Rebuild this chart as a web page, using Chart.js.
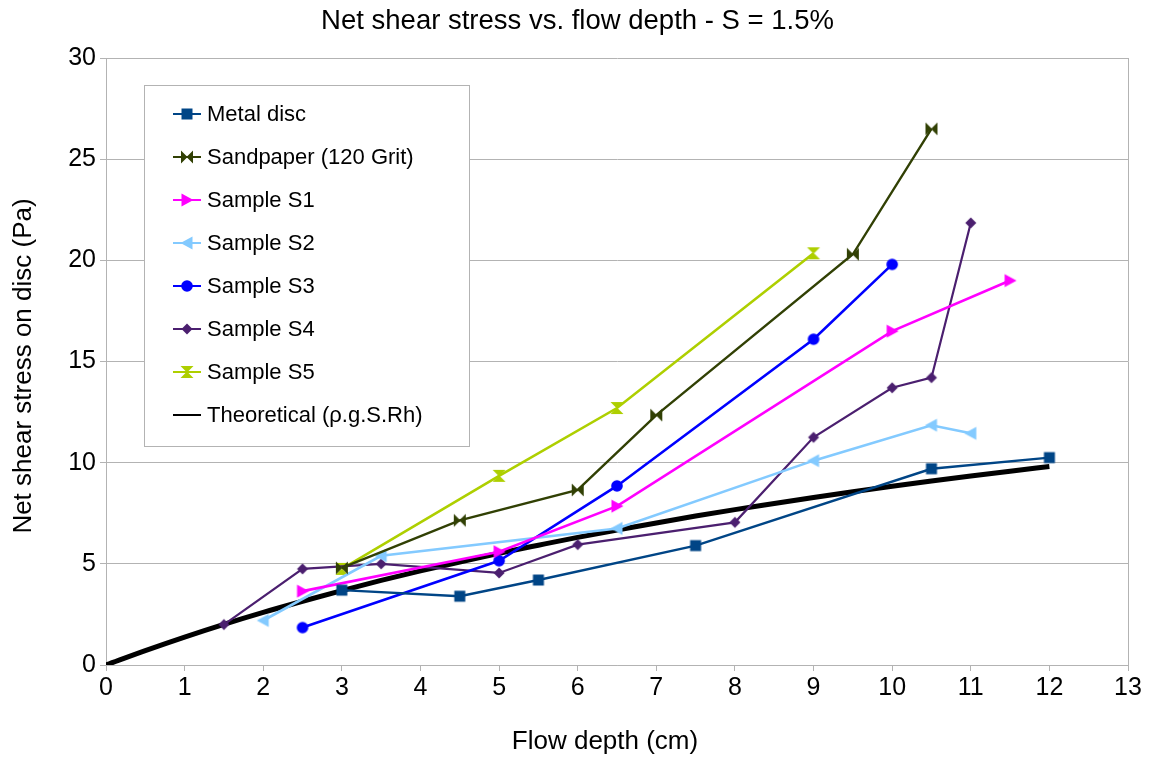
<!DOCTYPE html>
<html>
<head>
<meta charset="utf-8">
<title>Net shear stress vs. flow depth</title>
<script src="https://cdn.jsdelivr.net/npm/chart.js@4.4.1/dist/chart.umd.min.js"></script>
<style>
  html, body { margin: 0; padding: 0; background: #ffffff; }
  #wrap { width: 1152px; height: 761px; }
</style>
</head>
<body>
<div id="wrap"><canvas id="chart" width="1152" height="761"></canvas></div>
<script>
// ---- texts ----
const chartTitle = 'Net shear stress vs. flow depth - S = 1.5%';
const xAxisTitle = 'Flow depth (cm)';
const yAxisTitle = 'Net shear stress on disc (Pa)';

// ---- axis ranges / ticks ----
const xMin = 0, xMax = 13, xStep = 1;
const yMin = 0, yMax = 30, yStep = 5;

// ---- measured series: flow depth (cm) and net shear stress (Pa) ----
const metalDepth   = [3, 4.5, 5.5, 7.5, 10.5, 12];
const metalStress  = [3.7, 3.4, 4.2, 5.9, 9.7, 10.25];

const sandDepth    = [3, 4.5, 6, 7, 9.5, 10.5];
const sandStress   = [4.8, 7.15, 8.65, 12.35, 20.3, 26.5];

const s1Depth      = [2.5, 5, 6.5, 10, 11.5];
const s1Stress     = [3.65, 5.6, 7.85, 16.5, 19.0];

const s2Depth      = [2, 3.5, 6.5, 9, 10.5, 11];
const s2Stress     = [2.2, 5.4, 6.75, 10.1, 11.85, 11.45];

const s3Depth      = [2.5, 5, 6.5, 9, 10];
const s3Stress     = [1.85, 5.15, 8.85, 16.1, 19.8];

const s4Depth      = [1.5, 2.5, 3.5, 5, 6, 8, 9, 10, 10.5, 11];
const s4Stress     = [2.0, 4.75, 5.0, 4.55, 5.95, 7.05, 11.25, 13.7, 14.2, 21.85];

const s5Depth      = [3, 5, 6.5, 9];
const s5Stress     = [4.75, 9.35, 12.7, 20.35];

// theoretical curve (rho.g.S.Rh)
const theoDepth    = [0, 0.5, 1, 1.5, 2, 2.5, 3, 3.5, 4, 4.5, 5, 5.5, 6, 6.5, 7, 7.5, 8, 8.5, 9, 9.5, 10, 10.5, 11, 11.5, 12];
const theoStress   = [0, 0.71, 1.38, 2.01, 2.60, 3.15, 3.68, 4.18, 4.65, 5.09, 5.52, 5.92, 6.31, 6.67, 7.02, 7.36, 7.68, 7.98, 8.28, 8.56, 8.83, 9.09, 9.34, 9.58, 9.81];

const seriesNames = ['Metal disc', 'Sandpaper (120 Grit)', 'Sample S1', 'Sample S2', 'Sample S3', 'Sample S4', 'Sample S5', 'Theoretical (\u03c1.g.S.Rh)'];

const FONT = '"Liberation Sans", Arial, Helvetica, sans-serif';
const GRID = '#b3b3b3';

// ---- marker sprites ----
function makeMarker(kind, color) {
  const c = document.createElement('canvas');
  c.width = 16; c.height = 16;
  const g = c.getContext('2d');
  g.fillStyle = color;
  g.beginPath();
  switch (kind) {
    case 'square':
      g.rect(2.5, 2.5, 11, 11); break;
    case 'circle':
      g.arc(8, 8, 5.8, 0, Math.PI * 2); break;
    case 'triRight':
      g.moveTo(2.5, 1.5); g.lineTo(14.5, 8); g.lineTo(2.5, 14.5); g.closePath(); break;
    case 'triLeft':
      g.moveTo(13.5, 1.5); g.lineTo(1.5, 8); g.lineTo(13.5, 14.5); g.closePath(); break;
    case 'diamond':
      g.moveTo(8, 2.5); g.lineTo(13.5, 8); g.lineTo(8, 13.5); g.lineTo(2.5, 8); g.closePath(); break;
    case 'bowtie':
      g.moveTo(2, 1.5); g.lineTo(8.5, 8); g.lineTo(2, 14.5); g.closePath();
      g.moveTo(14, 1.5); g.lineTo(7.5, 8); g.lineTo(14, 14.5); g.closePath(); break;
    case 'hourglass':
      g.moveTo(1.5, 2); g.lineTo(14.5, 2); g.lineTo(8, 8.5); g.closePath();
      g.moveTo(1.5, 14); g.lineTo(14.5, 14); g.lineTo(8, 7.5); g.closePath(); break;
    default:
      return false;
  }
  g.fill();
  return c;
}

function pts(xs, ys) { return xs.map((x, i) => ({ x: x, y: ys[i] })); }

function series(label, xs, ys, color, kind, width, order) {
  return {
    label: label,
    data: pts(xs, ys),
    borderColor: color,
    backgroundColor: color,
    borderWidth: width,
    pointStyle: makeMarker(kind, color),
    pointRadius: kind ? 6 : 0,
    pointHoverRadius: kind ? 6 : 0,
    markerKind: kind,
    tension: 0,
    order: order
  };
}

const datasets = [
  series(seriesNames[0], metalDepth, metalStress, '#004586', 'square', 2.4, 0),
  series(seriesNames[1], sandDepth, sandStress, '#314004', 'bowtie', 2.4, 0),
  series(seriesNames[2], s1Depth, s1Stress, '#ff00ff', 'triRight', 2.6, 0),
  series(seriesNames[3], s2Depth, s2Stress, '#83caff', 'triLeft', 2.6, 0),
  series(seriesNames[4], s3Depth, s3Stress, '#0000ff', 'circle', 2.6, 0),
  series(seriesNames[5], s4Depth, s4Stress, '#4b1f6f', 'diamond', 2.2, 0),
  series(seriesNames[6], s5Depth, s5Stress, '#aecf00', 'hourglass', 2.6, 0),
  Object.assign(series(seriesNames[7], theoDepth, theoStress, '#000000', null, 5, 1), {
    pointStyle: 'circle', cubicInterpolationMode: 'monotone'
  })
];

// right frame edge of the plot area
const frameEdge = {
  id: 'frameEdge',
  beforeDatasetsDraw(chart) {
    const { ctx, chartArea } = chart;
    ctx.save();
    ctx.strokeStyle = GRID;
    ctx.lineWidth = 1;
    ctx.beginPath();
    const x = Math.round(chartArea.right) + 0.5;
    ctx.moveTo(x, chartArea.top);
    ctx.lineTo(x, chartArea.bottom);
    ctx.stroke();
    ctx.restore();
  }
};

// chart title and axis titles
const titles = {
  id: 'titles',
  afterDraw(chart) {
    const ctx = chart.ctx;
    ctx.save();
    ctx.fillStyle = '#000000';
    ctx.textAlign = 'center';
    ctx.textBaseline = 'middle';
    ctx.font = '27.5px ' + FONT;
    ctx.fillText(chartTitle, 577.5, 21);
    ctx.font = '26px ' + FONT;
    ctx.fillText(xAxisTitle, 605, 742);
    ctx.translate(24, 366);
    ctx.rotate(-Math.PI / 2);
    ctx.fillText(yAxisTitle, 0, 0);
    ctx.restore();
  }
};

// boxed legend inside the plot area
const boxedLegend = {
  id: 'boxedLegend',
  afterDraw(chart) {
    const ctx = chart.ctx;
    const box = { x: 144.5, y: 85.5, w: 325, h: 361 };
    ctx.save();
    ctx.fillStyle = '#ffffff';
    ctx.strokeStyle = GRID;
    ctx.lineWidth = 1;
    ctx.fillRect(box.x, box.y, box.w, box.h);
    ctx.strokeRect(box.x, box.y, box.w, box.h);
    ctx.font = '22px ' + FONT;
    ctx.textBaseline = 'middle';
    ctx.textAlign = 'left';
    chart.data.datasets.forEach((ds, i) => {
      const y = 114 + i * 43;
      ctx.strokeStyle = ds.borderColor;
      ctx.lineWidth = 2;
      ctx.beginPath();
      ctx.moveTo(173, y);
      ctx.lineTo(201, y);
      ctx.stroke();
      if (ds.markerKind) ctx.drawImage(ds.pointStyle, 187 - 8, y - 8);
      ctx.fillStyle = '#000000';
      ctx.fillText(ds.label, 207, y + 1);
    });
    ctx.restore();
  }
};

new Chart(document.getElementById('chart'), {
  type: 'line',
  data: { datasets: datasets },
  options: {
    responsive: false,
    animation: false,
    devicePixelRatio: 1,
    layout: { padding: { left: 0, right: 24, top: 58, bottom: 0 } },
    plugins: {
      legend: { display: false },
      tooltip: { enabled: false },
      title: { display: false }
    },
    scales: {
      x: {
        type: 'linear',
        min: xMin, max: xMax,
        ticks: { stepSize: xStep, color: '#000000', font: { family: FONT, size: 25 }, padding: 2, maxRotation: 0 },
        grid: { drawOnChartArea: false, drawTicks: true, tickLength: 6, color: GRID },
        border: { display: true, color: GRID },
        title: { display: false },
        afterFit(scale) { scale.height = 96; }
      },
      y: {
        type: 'linear',
        min: yMin, max: yMax,
        ticks: { stepSize: yStep, color: '#000000', font: { family: FONT, size: 25 }, padding: 4 },
        grid: { drawTicks: true, tickLength: 6, color: GRID },
        border: { display: true, color: GRID },
        title: { display: false },
        afterFit(scale) { scale.width = 106; }
      }
    }
  },
  plugins: [frameEdge, titles, boxedLegend]
});
</script>
</body>
</html>
